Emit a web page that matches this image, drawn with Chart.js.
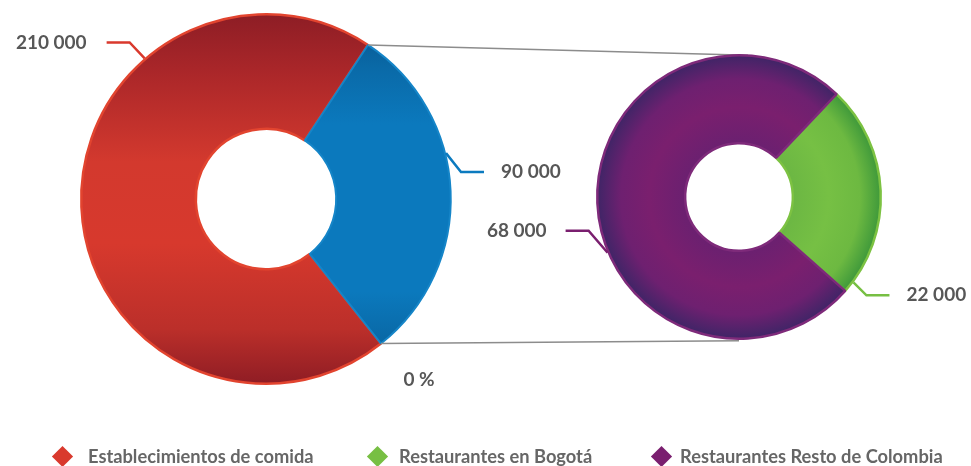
<!DOCTYPE html>
<html>
<head>
<meta charset="utf-8">
<script src="https://cdn.jsdelivr.net/npm/chart.js@4"></script>
<style>
  body { margin: 0; background: #fff; }
  #wrap { position: relative; width: 971px; height: 466px; overflow: hidden; }
  #wrap canvas { position: absolute; left: 0; top: 0; }
  .legend-item { position: absolute; top: 445px; height: 22px; font: 700 18.3px Lato, sans-serif; color: #666; line-height: 22px; white-space: nowrap; }
  .diamond { position: absolute; top: 449px; width: 15px; height: 15px; transform: rotate(45deg); }
</style>
</head>
<body>
<div id="wrap">
  <canvas id="mainChart" width="971" height="466"></canvas>
  <canvas id="detailChart" width="971" height="466"></canvas>
</div>
<script>
// datos
const mainLabels = ['Establecimientos de comida', 'Restaurantes'];
const mainValues = [210000, 90000];
const detailLabels = ['Restaurantes en Bogotá', 'Restaurantes Resto de Colombia'];
const detailValues = [22000, 68000];
const extraLabel = '0 %';

const textColor = '#575757';
const fmt = v => String(v).replace(/\B(?=(\d{3})+(?!\d))/g, ' ');

// colores sólidos (líneas guía, leyenda)
const mainColors = ['#d9392d', '#0b7abf'];
const detailColors = ['#77bf43', '#7a1f6f'];

// gradientes por porción
const mainStops = [
  [[0, '#8d1d25'], [0.15, '#a92629'], [0.4, '#d3392e'], [0.62, '#d7392d'], [0.85, '#bb2f2a'], [1, '#8e1c24']],
  [[0, '#07548a'], [0.15, '#0a6aa8'], [0.3, '#0b79bd'], [0.75, '#0b79bd'], [0.9, '#0966a2'], [1, '#064f80']]
];
const detailStops = [
  [[0, '#6cb743'], [0.4, '#76c044'], [0.75, '#6db941'], [1, '#3c973a']],
  [[0, '#6b2070'], [0.4, '#7a1f6e'], [0.72, '#6e2070'], [1, '#3d2566']]
];

function linearFill(c) {
  const chart = c.chart, a = chart.chartArea;
  const stops = mainStops[c.dataIndex];
  if (!a) return stops[2][1];
  const g = chart.ctx.createLinearGradient(0, a.top, 0, a.bottom);
  stops.forEach(s => g.addColorStop(s[0], s[1]));
  return g;
}
function radialFill(c) {
  const chart = c.chart, a = chart.chartArea;
  const stops = detailStops[c.dataIndex];
  if (!a) return stops[1][1];
  const cx = (a.left + a.right) / 2, cy = (a.top + a.bottom) / 2;
  const R = a.width / 2;
  const g = chart.ctx.createRadialGradient(cx, cy, R * 0.38, cx, cy, R);
  stops.forEach(s => g.addColorStop(s[0], s[1]));
  return g;
}

// etiquetas con línea guía (ángulo en grados desde arriba, sentido horario)
function leaderPlugin(specs, colors, values, extra) {
  return {
    id: 'leaders',
    afterDatasetsDraw(chart) {
      const ctx = chart.ctx;
      const meta = chart.getDatasetMeta(0);
      ctx.save();
      ctx.font = 'bold 19px Lato, sans-serif';
      ctx.textBaseline = 'middle';
      specs.forEach(s => {
        const arc = meta.data[s.index];
        const t = (s.angle - 90) * Math.PI / 180;
        const r = arc.outerRadius + 1;
        const x0 = arc.x + r * Math.cos(t), y0 = arc.y + r * Math.sin(t);
        const x1 = x0 + s.elbow[0], y1 = y0 + s.elbow[1];
        const dir = Math.sign(s.elbow[0]);
        const x2 = x1 + dir * s.len;
        ctx.strokeStyle = colors[s.index];
        ctx.lineWidth = 2.5;
        ctx.beginPath();
        ctx.moveTo(x0, y0);
        ctx.lineTo(x1, y1);
        ctx.lineTo(x2, y1);
        ctx.stroke();
        ctx.fillStyle = textColor;
        ctx.textAlign = dir > 0 ? 'left' : 'right';
        ctx.fillText(fmt(values[s.index]), x2 + dir * s.gap, y1);
      });
      if (extra) {
        const arc = meta.data[extra.index];
        const x = arc.x + arc.outerRadius * Math.cos(arc.endAngle);
        const y = arc.y + arc.outerRadius * Math.sin(arc.endAngle);
        ctx.textAlign = 'center';
        ctx.fillStyle = textColor;
        ctx.fillText(extra.text, x + extra.dx, y + extra.dy);
      }
      ctx.restore();
    }
  };
}

const mainChart = new Chart(document.getElementById('mainChart'), {
  type: 'doughnut',
  data: {
    labels: mainLabels,
    datasets: [{
      data: mainValues,
      backgroundColor: linearFill,
      borderColor: ['#e2442f', '#1585c8'],
      borderWidth: [2.5, 2]
    }]
  },
  options: {
    responsive: false,
    animation: false,
    events: [],
    rotation: 141.5,
    cutout: '38%',
    layout: { padding: { left: 80, right: 519, top: 13, bottom: 81 } },
    plugins: { legend: { display: false }, tooltip: { enabled: false } }
  },
  plugins: [leaderPlugin([
    { index: 0, angle: -40.8, elbow: [-15, -16], len: 23, gap: 20 },
    { index: 1, angle: 75.7, elbow: [15, 19], len: 23, gap: 17 }
  ], mainColors, mainValues, { index: 1, text: extraLabel, dx: 38, dy: 36 })]
});

const detailChart = new Chart(document.getElementById('detailChart'), {
  type: 'doughnut',
  data: {
    labels: detailLabels,
    datasets: [{
      data: detailValues,
      backgroundColor: radialFill,
      borderColor: ['#7cc242', '#7e2a7a'],
      borderWidth: 2.5
    }]
  },
  options: {
    responsive: false,
    animation: false,
    events: [],
    rotation: 43.5,
    cutout: '38%',
    layout: { padding: { left: 596, right: 89, top: 54, bottom: 126 } },
    plugins: { legend: { display: false }, tooltip: { enabled: false } }
  },
  plugins: [
    leaderPlugin([
      { index: 0, angle: 126.7, elbow: [13, 13], len: 23, gap: 17 },
      { index: 1, angle: 247, elbow: [-19, -22], len: 23, gap: 19 }
    ], detailColors, detailValues, null),
    {
      id: 'connectors',
      beforeDatasetsDraw(chart) {
        // líneas grises desde la porción azul hacia la dona de detalle
        const src = mainChart.getDatasetMeta(0).data[1];
        const dst = chart.getDatasetMeta(0).data[0];
        const R = src.outerRadius, r = dst.outerRadius;
        const ctx = chart.ctx;
        ctx.save();
        ctx.strokeStyle = '#8c8c8c';
        ctx.lineWidth = 1.5;
        ctx.beginPath();
        ctx.moveTo(src.x + R * Math.cos(src.startAngle), src.y + R * Math.sin(src.startAngle));
        ctx.lineTo(dst.x + 9, dst.y - r);
        ctx.moveTo(src.x + R * Math.cos(src.endAngle), src.y + R * Math.sin(src.endAngle));
        ctx.lineTo(dst.x, dst.y + r + 2);
        ctx.stroke();
        ctx.restore();
      }
    }
  ]
});

// leyenda
const legendNames = [mainLabels[0], detailLabels[0], detailLabels[1]];
const legendColors = [mainColors[0], detailColors[0], detailColors[1]];
const legendDiamondX = [62, 377, 661];
const legendTextX = [88, 399, 680];
const wrap = document.getElementById('wrap');
legendNames.forEach((name, i) => {
  const d = document.createElement('div');
  d.className = 'diamond';
  d.style.left = (legendDiamondX[i] - 7.5) + 'px';
  d.style.background = legendColors[i];
  wrap.appendChild(d);
  const t = document.createElement('div');
  t.className = 'legend-item';
  t.style.left = legendTextX[i] + 'px';
  t.textContent = name;
  wrap.appendChild(t);
});
</script>
</body>
</html>
